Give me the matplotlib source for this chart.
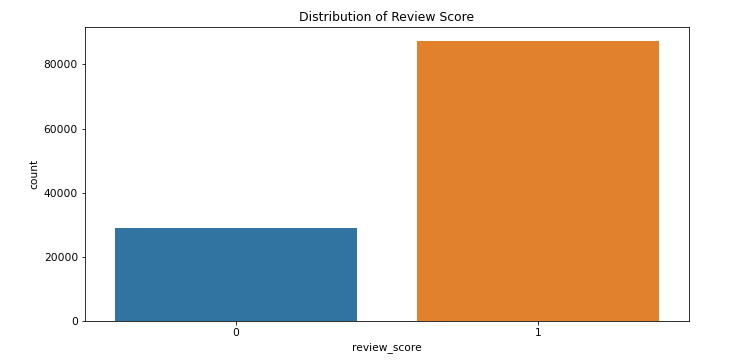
import matplotlib
matplotlib.use("Agg")
import matplotlib.pyplot as plt
import seaborn as sns
import pandas as pd

review_score = ["0", "1"]
counts = [29000, 87300]

df = pd.DataFrame({"review_score": review_score, "count": counts})

plt.rcParams["font.size"] = 10.6

fig = plt.figure(figsize=(730 / 72, 364 / 72), dpi=72)
ax = fig.add_axes([85 / 730, 43 / 364, 604 / 730, 294 / 364])
sns.barplot(data=df, x="review_score", y="count", hue="review_score",
            palette=["#3274a1", "#e1812c"], legend=False, ax=ax, saturation=1)
ax.set_ylim(0, max(counts) * 1.05)
ax.set_yticks([0, 20000, 40000, 60000, 80000])
ax.set_title("Distribution of Review Score", fontsize=12.4)
ax.set_xlabel("review_score")
ax.set_ylabel("count")
fig.savefig("out.png", dpi=72)
